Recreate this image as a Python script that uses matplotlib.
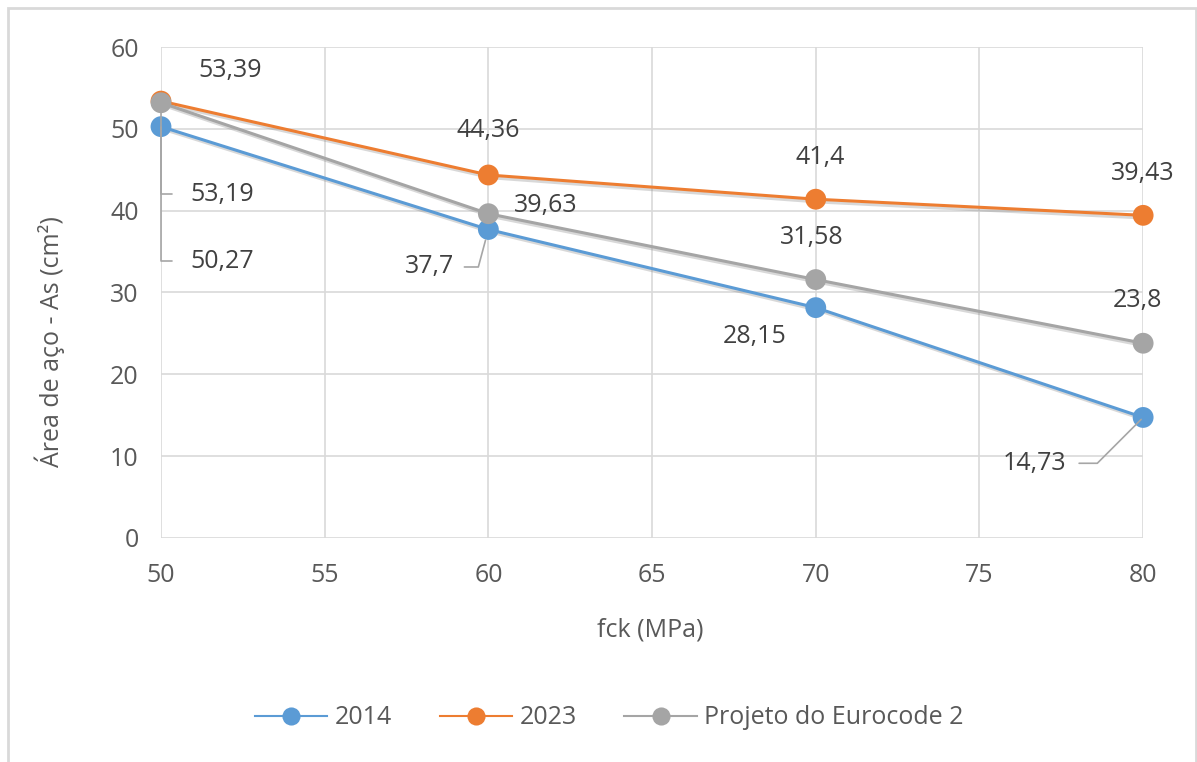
import matplotlib
matplotlib.use("Agg")
import matplotlib.pyplot as plt
import matplotlib.patheffects as pe
from matplotlib.patches import Rectangle

# data
fck = [50, 60, 70, 80]
as_2014 = [50.27, 37.7, 28.15, 14.73]
as_2023 = [53.39, 44.36, 41.4, 39.43]
as_ec2 = [53.19, 39.63, 31.58, 23.8]
series_names = ["2014", "2023", "Projeto do Eurocode 2"]
x_ticks = [50, 55, 60, 65, 70, 75, 80]
y_ticks = [0, 10, 20, 30, 40, 50, 60]

colors = ["#5B9BD5", "#ED7D31", "#A5A5A5"]
text_color = "#595959"
label_color = "#404040"
grid_color = "#D9D9D9"

# label offsets (points) and leader styles per point
offsets = [
    [(44, -97), (-42, -27), (-44, -21), (-78, -33)],
    [(50, 22), (0, 32), (3, 30), (0, 30)],
    [(44, -66), (41, 6), (-3, 30), (-4, 31)],
]
leaders = [
    ["vert", "short", None, "diag"],
    [None, None, None, None],
    ["vert", None, None, None],
]

plt.rcParams["font.family"] = ["Open Sans", "DejaVu Sans"]

fig = plt.figure(figsize=(11.97, 7.62), dpi=100)
ax = fig.add_axes([0.1345, 0.294, 0.8205, 0.6443])

shadow = [pe.SimpleLineShadow(offset=(2, -2), shadow_color="#7f7f7f", alpha=0.3),
          pe.Normal()]

all_series = [as_2014, as_2023, as_ec2]
handles = []
for vals, name, col in zip(all_series, series_names, colors):
    h, = ax.plot(fck, vals, color=col, lw=2.2, marker="o", markersize=15,
                 markeredgewidth=0, label=name, zorder=3, clip_on=False,
                 path_effects=shadow)
    handles.append(h)

lead_kw = dict(arrowstyle="-", color="#A6A6A6", lw=1.2)
for vals, offs, leads in zip(all_series, offsets, leaders):
    for x, v, off, lead in zip(fck, vals, offs, leads):
        txt = str(v).replace(".", ",")
        kw = dict(textcoords="offset points", xytext=off, ha="center", va="center",
                  fontsize=18, color=label_color, zorder=4)
        if lead == "vert":
            kw["arrowprops"] = dict(lead_kw, relpos=(0, 0.5), shrinkA=11, shrinkB=0,
                                    connectionstyle="angle,angleA=0,angleB=90,rad=0")
        elif lead == "diag":
            kw["arrowprops"] = dict(lead_kw, relpos=(1, 0.5), shrinkA=7, shrinkB=2,
                                    connectionstyle="angle,angleA=0,angleB=45,rad=0")
        elif lead == "short":
            kw["arrowprops"] = dict(lead_kw, relpos=(1, 0.5), shrinkA=5, shrinkB=8,
                                    connectionstyle="angle,angleA=0,angleB=75,rad=0")
        ann = ax.annotate(txt, xy=(x, v), **kw)
        if "arrowprops" in kw:
            ann.arrow_patch.set_zorder(1)

ax.set_xlim(50, 80)
ax.set_ylim(0, 60)
ax.set_xticks(x_ticks)
ax.set_yticks(y_ticks)
ax.grid(True, color=grid_color, lw=1.2, zorder=0)
ax.set_axisbelow(True)
for s in ax.spines.values():
    s.set_visible(False)
ax.tick_params(axis="both", length=0, labelsize=18, labelcolor=text_color)
ax.tick_params(axis="x", pad=18)
ax.tick_params(axis="y", pad=16)

ax.set_xlabel("fck (MPa)", fontsize=18, color=text_color)
ax.xaxis.set_label_coords(0.498, -0.187)
ax.xaxis.label.set_va("center")
ax.set_ylabel("Área de aço - As (cm²)", fontsize=18, color=text_color)
ax.yaxis.set_label_coords(-0.113, 0.40)
ax.yaxis.label.set_va("center")

leg = fig.legend(handles=handles, loc="center", bbox_to_anchor=(0.509, 0.058), ncol=3,
                 frameon=False, fontsize=18, handlelength=2.9, columnspacing=1.9,
                 handletextpad=0.3, labelcolor=text_color, markerscale=0.87)
for ln in leg.get_lines():
    ln.set_linewidth(1.5)
    ln.set_path_effects([])

fig.patches.append(Rectangle((8 / 1197, -0.02), 1188 / 1197, 1.02 - 8 / 762,
                             transform=fig.transFigure, fill=False,
                             edgecolor=grid_color, lw=2))

fig.savefig("out.png", dpi=100)
